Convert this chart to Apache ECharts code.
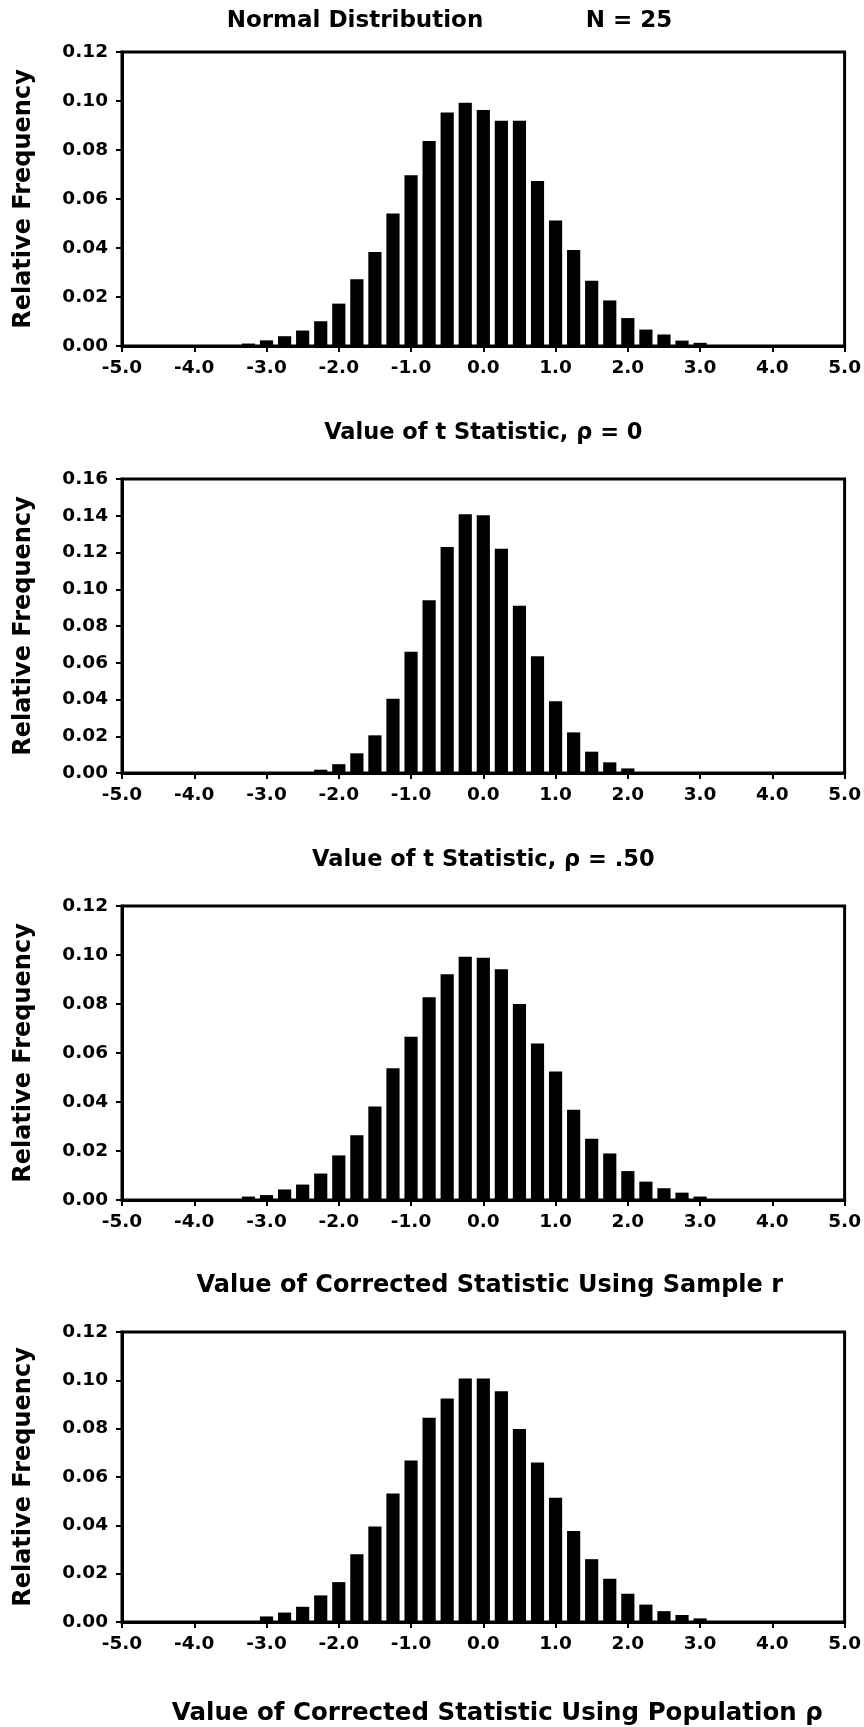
<!DOCTYPE html>
<html>
<head>
<meta charset="utf-8">
<script src="https://cdn.jsdelivr.net/npm/echarts@6/dist/echarts.min.js"></script>
<style>
  html, body { margin: 0; padding: 0; background: #fff; }
  #main { width: 864px; height: 1727px; }
</style>
</head>
<body>
<div id="main"></div>
<script>
// bin centres (value of statistic), 0.25 wide
var bins = [-3.25, -3.0, -2.75, -2.5, -2.25, -2.0, -1.75, -1.5, -1.25, -1.0, -0.75, -0.5, -0.25,
            0.0, 0.25, 0.5, 0.75, 1.0, 1.25, 1.5, 1.75, 2.0, 2.25, 2.5, 2.75, 3.0];
// relative frequencies
var tRho0 = [0.0010, 0.0023, 0.0040, 0.0063, 0.0101, 0.0173, 0.0272, 0.0384, 0.0541, 0.0697, 0.0837, 0.0953, 0.0993,
             0.0963, 0.0919, 0.0919, 0.0673, 0.0512, 0.0392, 0.0266, 0.0186, 0.0114, 0.0067, 0.0047, 0.0022, 0.0013];
var tRho50 = [0, 0, 0, 0, 0.0018, 0.0048, 0.0107, 0.0205, 0.0404, 0.0660, 0.0940, 0.1230, 0.1408,
              0.1403, 0.1220, 0.0910, 0.0636, 0.0390, 0.0221, 0.0116, 0.0058, 0.0025, 0, 0, 0, 0];
var sampleR = [0.0014, 0.0020, 0.0043, 0.0063, 0.0108, 0.0182, 0.0264, 0.0382, 0.0538, 0.0666, 0.0828, 0.0921, 0.0993,
               0.0989, 0.0942, 0.0800, 0.0639, 0.0525, 0.0368, 0.0250, 0.0190, 0.0118, 0.0075, 0.0048, 0.0030, 0.0014];
var popRho = [0, 0.0023, 0.0039, 0.0063, 0.0110, 0.0165, 0.0280, 0.0395, 0.0532, 0.0668, 0.0845, 0.0925, 0.1008,
              0.1008, 0.0955, 0.0799, 0.0660, 0.0514, 0.0377, 0.0260, 0.0179, 0.0117, 0.0072, 0.0045, 0.0029, 0.0015];

var panelValues = [tRho0, tRho50, sampleR, popRho];
var yMaxes = [0.12, 0.16, 0.12, 0.12];
var xTitles = ['Value of t Statistic, \u03c1 = 0',
               'Value of t Statistic, \u03c1 = .50',
               'Value of Corrected Statistic Using Sample r',
               'Value of Corrected Statistic Using Population \u03c1'];
var yTitle = 'Relative Frequency';

var FONT = 'DejaVu Sans';
var gridTops = [52, 479, 906, 1332];
var xTitleSizes = [22.5, 22.5, 24, 24.5];
// the two lower titles sit a little right of the plot centre
var xTitlePads = [[0, 0, 0, 0], [0, 0, 0, 0], [0, 0, 0, 13], [0, 0, 0, 28]];
var xTitleGaps = [76, 76, 74, 79];

var grids = [], xAxes = [], yAxes = [], series = [];
for (var i = 0; i < 4; i++) {
  grids.push({
    left: 122, right: 18, top: gridTops[i], height: 294,
    show: true, borderColor: '#000', borderWidth: 3
  });
  xAxes.push({
    type: 'value', gridIndex: i, min: -5, max: 5, interval: 1,
    name: xTitles[i], nameLocation: 'middle', nameGap: xTitleGaps[i],
    nameTextStyle: { fontFamily: FONT, fontWeight: 'bold', fontSize: xTitleSizes[i], color: '#000', padding: xTitlePads[i] },
    axisLine: { show: true, onZero: false, lineStyle: { color: '#000', width: 3 } },
    axisTick: { show: true, length: 6, lineStyle: { color: '#000', width: 2 } },
    axisLabel: {
      margin: 13, fontFamily: FONT, fontWeight: 'bold', fontSize: 18.5, color: '#000',
      formatter: function (v) { return v.toFixed(1); }
    },
    splitLine: { show: false }
  });
  yAxes.push({
    type: 'value', gridIndex: i, min: 0, max: yMaxes[i], interval: 0.02,
    name: yTitle, nameLocation: 'middle', nameGap: 86,
    nameTextStyle: { fontFamily: FONT, fontWeight: 'bold', fontSize: 24, color: '#000' },
    axisLine: { show: true, onZero: false, lineStyle: { color: '#000', width: 3 } },
    axisTick: { show: true, length: 6, lineStyle: { color: '#000', width: 2 } },
    axisLabel: {
      margin: 14, fontFamily: FONT, fontWeight: 'bold', fontSize: 18.5, color: '#000',
      formatter: function (v) { return v.toFixed(2); }
    },
    splitLine: { show: false }
  });
  var pts = [];
  for (var j = 0; j < bins.length; j++) {
    if (panelValues[i][j] > 0) pts.push([bins[j], panelValues[i][j]]);
  }
  series.push({
    type: 'bar', xAxisIndex: i, yAxisIndex: i,
    barWidth: '73%',
    itemStyle: { color: '#000' },
    data: pts
  });
}

var chart = echarts.init(document.getElementById('main'));
chart.setOption({
  animation: false,
  backgroundColor: '#fff',
  grid: grids,
  xAxis: xAxes,
  yAxis: yAxes,
  series: series,
  graphic: [
    { type: 'text', x: 355, y: 21, style: { text: 'Normal Distribution', fontFamily: FONT, fontWeight: 'bold', fontSize: 23, fill: '#000', textAlign: 'center', textVerticalAlign: 'middle' } },
    { type: 'text', x: 629, y: 21, style: { text: 'N = 25', fontFamily: FONT, fontWeight: 'bold', fontSize: 23, fill: '#000', textAlign: 'center', textVerticalAlign: 'middle' } }
  ]
});
</script>
</body>
</html>
